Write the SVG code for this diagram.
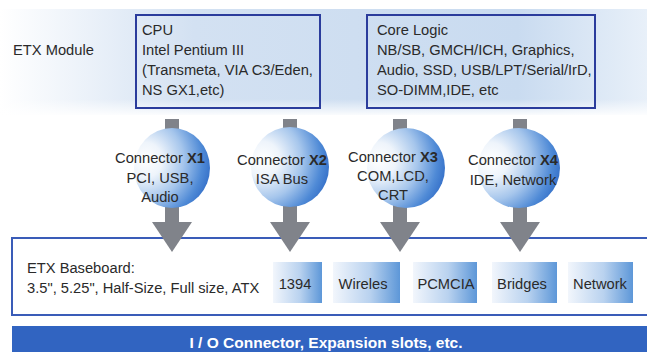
<svg xmlns="http://www.w3.org/2000/svg" width="647" height="352" viewBox="0 0 647 352">
<defs>
<linearGradient id="band" x1="0" y1="0" x2="1" y2="0">
<stop offset="0" stop-color="#ffffff"/>
<stop offset="0.3" stop-color="#d3e1f2"/>
<stop offset="0.8" stop-color="#c9dbf0"/>
<stop offset="1" stop-color="#e8f0f9"/>
</linearGradient>
<linearGradient id="bandFade" x1="0" y1="0" x2="0" y2="1">
<stop offset="0" stop-color="#ffffff" stop-opacity="0"/>
<stop offset="0.85" stop-color="#ffffff" stop-opacity="0"/>
<stop offset="1" stop-color="#ffffff" stop-opacity="0.9"/>
</linearGradient>
<radialGradient id="ball" cx="0.15" cy="0.4" r="1" fx="0.15" fy="0.4">
<stop offset="0" stop-color="#ffffff"/>
<stop offset="0.22" stop-color="#eef4fb"/>
<stop offset="0.5" stop-color="#a6c6ec"/>
<stop offset="0.75" stop-color="#4f8ad6"/>
<stop offset="1" stop-color="#1d58bc"/>
</radialGradient>
<linearGradient id="slot" x1="0" y1="0" x2="1" y2="0">
<stop offset="0" stop-color="#f2f6fc"/>
<stop offset="0.55" stop-color="#b9d2ef"/>
<stop offset="1" stop-color="#5d97d8"/>
</linearGradient>
</defs>
<style>
text{font-family:"Liberation Sans",Arial,sans-serif;font-size:14.7px;fill:#2a2a2a}
.mod{fill:none;stroke:#2b3c9c;stroke-width:2}
.stem{fill:#80838a}
.c{text-anchor:middle}
.b{font-weight:bold}
.slot{fill:url(#slot)}
</style>
<rect x="0" y="0" width="647" height="352" fill="#ffffff"/>
<rect x="0" y="9" width="647" height="106" fill="url(#band)"/>
<rect x="0" y="9" width="647" height="106" fill="url(#bandFade)"/>
<text x="13" y="55">ETX Module</text>
<g id="cpu">
<rect class="mod" x="136" y="15" width="184" height="93" fill="#d6e3f4" fill-opacity="0.5"/>
<text x="142" y="35">CPU</text>
<text x="142" y="55">Intel Pentium III</text>
<text x="142" y="75">(Transmeta, VIA C3/Eden,</text>
<text x="142" y="95">NS GX1,etc)</text>
</g>
<g id="corelogic">
<rect class="mod" x="367" y="15" width="228" height="93" fill="#d6e3f4" fill-opacity="0.5"/>
<text x="377" y="35">Core Logic</text>
<text x="377" y="55">NB/SB, GMCH/ICH, Graphics,</text>
<text x="377" y="75">Audio, SSD, USB/LPT/Serial/IrD,</text>
<text x="377" y="95">SO-DIMM,IDE, etc</text>
</g>
<g id="baseboard">
<rect x="12" y="238" width="640" height="77" fill="#ffffff" stroke="#3a5cb8" stroke-width="2"/>
<text x="27" y="273">ETX Baseboard:</text>
<text x="27" y="293">3.5", 5.25", Half-Size, Full size, ATX</text>
</g>
<g id="connectors">
<g id="arrow1">
<rect class="stem" x="165" y="119" width="14" height="104"/>
<polygon class="stem" points="152,222 192,222 172,252"/>
</g>
<g id="arrow2">
<rect class="stem" x="283" y="119" width="14" height="104"/>
<polygon class="stem" points="270,222 310,222 290,252"/>
</g>
<g id="arrow3">
<rect class="stem" x="393" y="119" width="14" height="104"/>
<polygon class="stem" points="380,222 420,222 400,252"/>
</g>
<g id="arrow4">
<rect class="stem" x="513" y="119" width="14" height="104"/>
<polygon class="stem" points="500,222 540,222 520,252"/>
</g>
</g>
<g id="x1">
<ellipse cx="172" cy="168" rx="38" ry="40" fill="url(#ball)"/>
<text class="c" x="160" y="163">Connector <tspan class="b">X1</tspan></text>
<text class="c" x="160" y="183">PCI, USB,</text>
<text class="c" x="160" y="202">Audio</text>
</g>
<g id="x2">
<ellipse cx="290" cy="167" rx="39" ry="40" fill="url(#ball)"/>
<text class="c" x="282" y="165">Connector <tspan class="b">X2</tspan></text>
<text class="c" x="282" y="184">ISA Bus</text>
</g>
<g id="x3">
<ellipse cx="406" cy="168" rx="39" ry="40" fill="url(#ball)"/>
<text class="c" x="393" y="162">Connector <tspan class="b">X3</tspan></text>
<text class="c" x="393" y="181">COM,LCD,</text>
<text class="c" x="393" y="200">CRT</text>
</g>
<g id="x4">
<ellipse cx="519" cy="168" rx="41" ry="40" fill="url(#ball)"/>
<text class="c" x="513" y="165">Connector <tspan class="b">X4</tspan></text>
<text class="c" x="513" y="185">IDE, Network</text>
</g>
<g id="s1394">
<rect class="slot" x="273" y="262" width="49" height="41"/>
<text class="c" x="295" y="289">1394</text>
</g>
<g id="wireles">
<rect class="slot" x="333" y="262" width="67" height="41"/>
<text class="c" x="363" y="289">Wireles</text>
</g>
<g id="pcmcia">
<rect class="slot" x="413" y="262" width="64" height="41"/>
<text class="c" x="446" y="289">PCMCIA</text>
</g>
<g id="bridges">
<rect class="slot" x="492" y="262" width="65" height="41"/>
<text class="c" x="522" y="289">Bridges</text>
</g>
<g id="network">
<rect class="slot" x="568" y="262" width="65" height="41"/>
<text class="c" x="600" y="289">Network</text>
</g>
<g id="iobar">
<rect x="12" y="326" width="640" height="30" fill="#3164c1"/>
<text class="c b" x="326" y="348" style="fill:#ffffff;font-size:15.5px">I / O Connector, Expansion slots, etc.</text>
</g>
</svg>
